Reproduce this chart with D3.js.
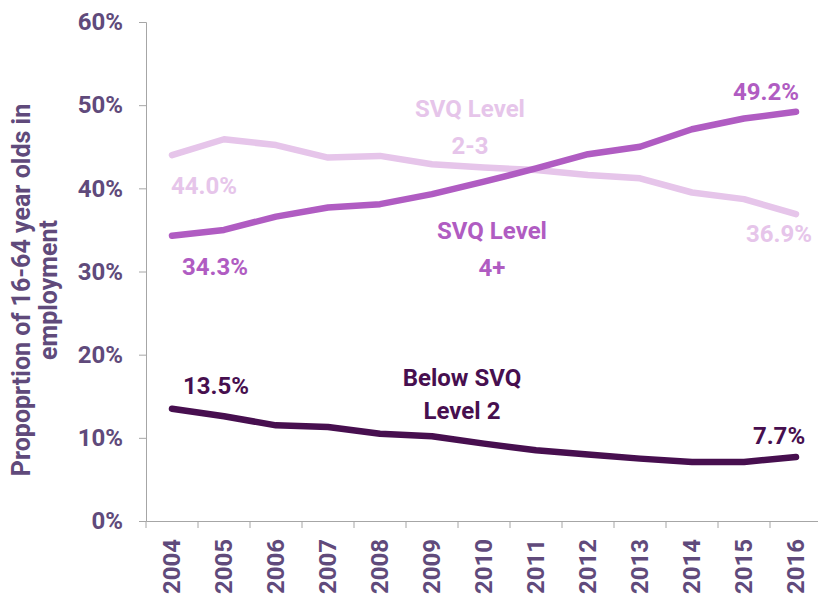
<!DOCTYPE html>
<html>
<head>
<meta charset="utf-8">
<script src="https://cdn.jsdelivr.net/npm/d3@7"></script>
<style>
  body { margin: 0; background: #fff; }
  text { font-family: Roboto, "Open Sans", "Noto Sans", sans-serif; font-weight: bold; }
</style>
</head>
<body>
<script>
var width = 818, height = 598

var years = ["2004","2005","2006","2007","2008","2009","2010","2011","2012","2013","2014","2015","2016"]
var below = [13.5, 12.6, 11.5, 11.3, 10.5, 10.2, 9.3, 8.5, 8.0, 7.5, 7.1, 7.1, 7.7]
var level4 = [34.3, 35.0, 36.6, 37.7, 38.1, 39.3, 40.8, 42.4, 44.1, 45.0, 47.1, 48.4, 49.2]
var level23 = [44.0, 45.9, 45.2, 43.7, 43.9, 42.9, 42.5, 42.2, 41.6, 41.2, 39.5, 38.7, 36.9]
var yTicks = [0, 10, 20, 30, 40, 50, 60]

var purple = "#604a7b"

var x = d3.scaleBand().domain(years).range([146, 822])
var y = d3.scaleLinear().domain([0, 60]).range([521, 22])

var svg = d3.select("body").append("svg")
    .attr("width", width)
    .attr("height", height)

// axes
var yAxis = svg.append("g")
    .attr("transform", "translate(146,0)")
    .call(d3.axisLeft(y).tickValues(yTicks).tickSize(7).tickFormat(function(d) { return d + "%" }))
yAxis.select(".domain").attr("stroke", "#a6a6a6")
yAxis.selectAll(".tick line").attr("stroke", "#a6a6a6")
yAxis.selectAll(".tick text")
    .attr("x", -23)
    .attr("fill", purple)
    .style("font-size", "24px")

var xAxis = svg.append("g")
    .attr("transform", "translate(0,521)")
    .call(d3.axisBottom(x).tickSize(0).tickSizeOuter(0))
xAxis.select(".domain").attr("stroke", "#a6a6a6")
xAxis.selectAll(".tick line").remove()
xAxis.selectAll(".bt")
    .data(years.concat(["end"]))
  .enter().append("line")
    .attr("x1", function(d, i) { return 146 + i * x.step() })
    .attr("x2", function(d, i) { return 146 + i * x.step() })
    .attr("y1", 0).attr("y2", 7)
    .attr("stroke", "#a6a6a6")
xAxis.selectAll(".tick text")
    .attr("fill", purple)
    .style("font-size", "24px")
    .attr("transform", "rotate(-90)")
    .attr("text-anchor", "end")
    .attr("x", -18)
    .attr("y", 0)
    .attr("dy", "0.35em")

// y title
var yt = svg.append("text")
    .attr("transform", "translate(22,290) rotate(-90)")
    .attr("text-anchor", "middle")
    .attr("fill", purple)
    .style("font-size", "25px")
yt.append("tspan").attr("x", 0).attr("y", 8).text("Propoprtion of 16-64 year olds in")
yt.append("tspan").attr("x", 0).attr("y", 35).text("employment")

var line = d3.line()
    .x(function(d, i) { return x(years[i]) + x.bandwidth() / 2 })
    .y(function(d) { return y(d) })

var series = [
  {values: level23, color: "#e6c5ea"},
  {values: level4, color: "#b05cc2"},
  {values: below, color: "#470f4f"}
]

svg.selectAll(".series")
    .data(series)
  .enter().append("path")
    .attr("d", function(d) { return line(d.values) })
    .attr("fill", "none")
    .attr("stroke", function(d) { return d.color })
    .attr("stroke-width", 6.5)
    .attr("stroke-linecap", "round")
    .attr("stroke-linejoin", "round")

function lbl(txt, cx, cy, color) {
  svg.append("text")
    .text(txt)
    .attr("x", cx).attr("y", cy)
    .attr("text-anchor", "middle")
    .attr("fill", color)
    .style("font-size", "24px")
}

var first = x(years[0]) + x.bandwidth() / 2
var last = x(years[years.length - 1]) + x.bandwidth() / 2

lbl(d3.format(".1f")(level4[12]) + "%", last - 30, y(level4[12]) - 12, "#b05cc2")
lbl(d3.format(".1f")(level4[0]) + "%", first + 43, y(level4[0]) + 39, "#b05cc2")
lbl(d3.format(".1f")(level23[0]) + "%", first + 32, y(level23[0]) + 39, "#e6c5ea")
lbl(d3.format(".1f")(level23[12]) + "%", last - 17, y(level23[12]) + 28, "#e6c5ea")
lbl(d3.format(".1f")(below[0]) + "%", first + 44, y(below[0]) - 15, "#470f4f")
lbl(d3.format(".1f")(below[12]) + "%", last - 17, y(below[12]) - 13, "#470f4f")

lbl("SVQ Level", 470, 117, "#e6c5ea")
lbl("2-3", 470, 154, "#e6c5ea")
lbl("SVQ Level", 492, 239, "#b05cc2")
lbl("4+", 492, 276, "#b05cc2")
lbl("Below SVQ", 462, 386, "#470f4f")
lbl("Level 2", 462, 419, "#470f4f")
</script>
</body>
</html>
